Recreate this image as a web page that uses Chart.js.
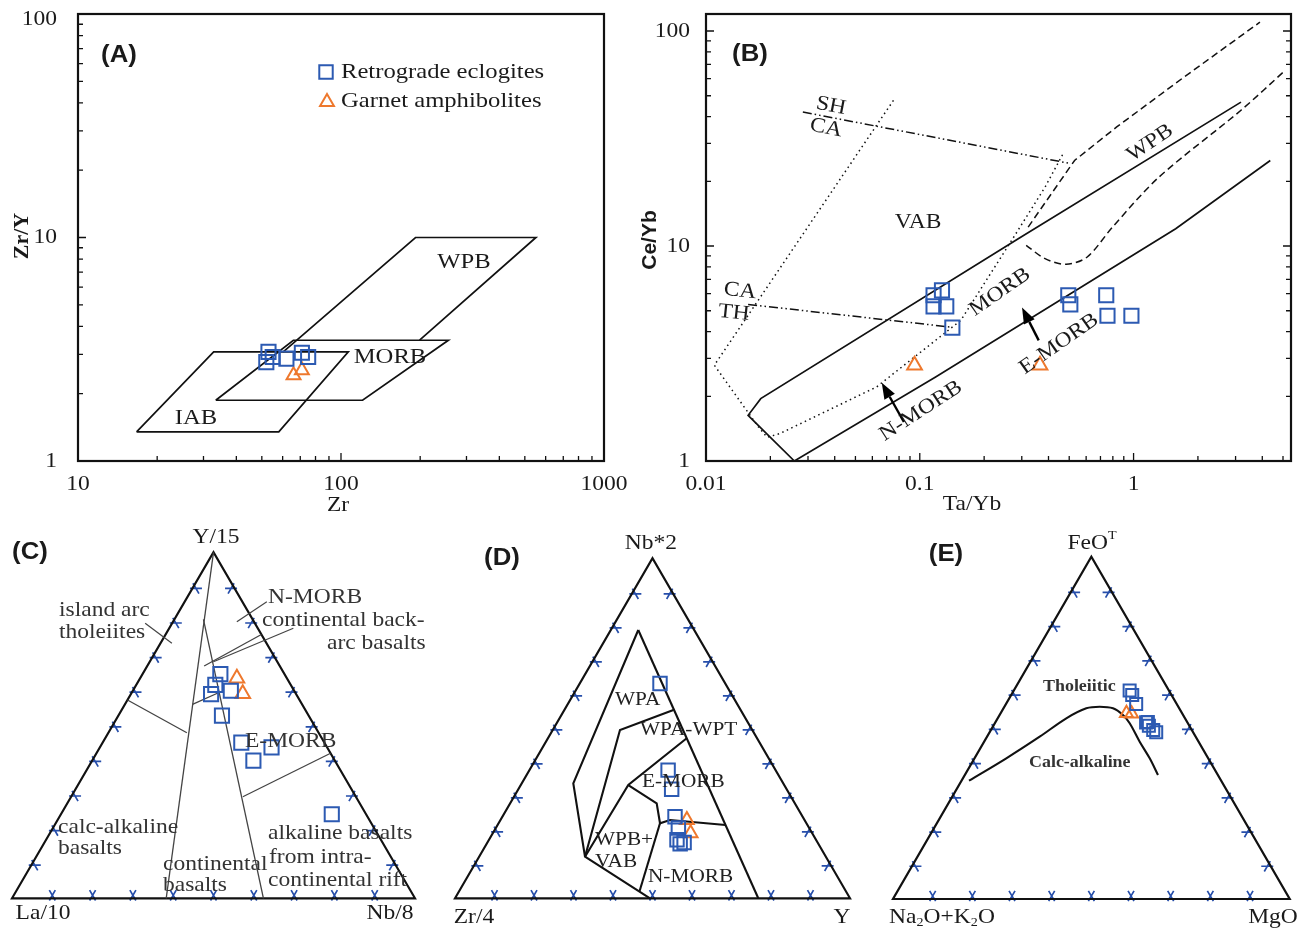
<!DOCTYPE html>
<html>
<head>
<meta charset="utf-8">
<title>Discrimination diagrams</title>
<script src="https://cdn.jsdelivr.net/npm/chart.js@4.4.1/dist/chart.umd.min.js"></script>
<style>
  html, body { margin: 0; padding: 0; background: #fff; }
  #wrap { position: relative; width: 1303px; height: 934px; overflow: hidden; background: #fff; }
  #wrap canvas { position: absolute; left: 0; top: 0; }
</style>
</head>
<body>
<div id="wrap">
  <canvas id="chartA" width="1303" height="934"></canvas>
  <canvas id="chartB" width="1303" height="934"></canvas>
  <canvas id="chartC" width="1303" height="934"></canvas>
  <canvas id="chartD" width="1303" height="934"></canvas>
  <canvas id="chartE" width="1303" height="934"></canvas>
</div>
<script>
// ---------- (A) Zr/Y vs Zr ----------
const aEclZr  = [52, 53, 55, 62, 71, 75];
const aEclZrY = [2.77, 3.08, 2.92, 2.87, 3.05, 2.92];
const aAmpZr  = [66, 71];
const aAmpZrY = [2.42, 2.55];
const aXTicks = [10, 100, 1000];
const aYTicks = [1, 10, 100];
// field outlines [Zr, Zr/Y]
const aFieldIAB  = [[16.7, 1.35], [32.8, 3.08], [106.6, 3.08], [58, 1.35], [16.7, 1.35]];
const aFieldMORB = [[33.4, 1.87], [65.9, 3.47], [256, 3.47], [120.8, 1.87], [33.4, 1.87]];
const aFieldWPB  = [[60.3, 3.08], [192, 10], [551, 10], [199, 3.47]];

// ---------- (B) Ce/Yb vs Ta/Yb ----------
const bEclTaYb = [0.116, 0.127, 0.116, 0.133, 0.142, 0.495, 0.506, 0.745, 0.755, 0.977];
const bEclCeYb = [5.90, 6.22, 5.24, 5.24, 4.17, 5.90, 5.35, 5.90, 4.74, 4.74];
const bAmpTaYb = [0.0945, 0.365];
const bAmpCeYb = [2.79, 2.79];
const bXTicks = [0.01, 0.1, 1];
const bYTicks = [1, 10, 100];
// boundaries [Ta/Yb, Ce/Yb]
const bSolidUpper = [[0.0259, 1], [0.01574, 1.631], [0.01803, 1.95], [0.2938, 10.93], [3.18, 46.7]];
const bSolidLower = [[0.0259, 1], [0.1186, 2.46], [1.574, 12.04], [4.36, 25.0]];
const bDotted = [[0.0753, 47.6], [0.01094, 2.79], [0.0175, 1.45], [0.0193, 1.29], [0.0221, 1.34],
                 [0.0628, 2.21], [0.1556, 4.51], [0.2687, 10.6], [0.3855, 18.8], [0.473, 27.4]];
const bShCa = [[0.02838, 42.0], [0.506, 24.2]];
const bCaTh = [[0.01574, 5.35], [0.139, 4.2]];
const bDashUpper = [[0.3213, 12.25], [0.5297, 25.0], [0.834, 35.8], [1.724, 61.1], [3.90, 110]];
const bDashLower = [[0.3145, 10.07], [0.3855, 8.73], [0.484, 8.22], [0.607, 8.89], [0.797, 12.25],
                    [1.313, 20.9], [3.18, 42.8], [5.12, 65.6]];
const bArrows = [[[0.0843, 1.518], [0.0664, 2.31]], [[0.360, 3.64], [0.3008, 5.17]]];

// ---------- (C) Y/15 - La/10 - Nb/8 (percent of apex Y/15 and Nb/8) ----------
const cEclY  = [64.8, 61.7, 59.0, 60.0, 52.8, 45.0, 43.6, 39.8, 24.3];
const cEclNb = [19.3, 19.6, 19.9, 24.3, 25.7, 34.4, 42.6, 40.0, 67.2];
const cAmpY  = [63.6, 59.1];
const cAmpNb = [24.0, 27.7];
// boundaries [Y/15, Nb/8] fractions
const cBounds = [
  [[1, 0], [0, 0.3826]],
  [[0.8064, 0.0719], [0, 0.6239]],
  [[0.5731, 0], [0.4786, 0.1946]],
  [[0.5607, 0.1675], [0.5962, 0.2184]],
  [[0.6714, 0.1411], [0.7624, 0.2376]],
  [[0.2936, 0.426], [0.4191, 0.5809]]
];
const cLeaders = [
  [[0.7948, -0.067], [0.737, 0.0282]],
  [[0.7994, 0.1582], [0.8572, 0.2037]],
  [[0.6838, 0.158], [0.7803, 0.308]]
];

// ---------- (D) Nb*2 - Zr/4 - Y ----------
const dEclNb = [63.2, 37.7, 32.1, 24.0, 20.7, 17.2, 16.0, 16.4];
const dEclY  = [20.3, 35.1, 38.8, 43.7, 46.2, 47.6, 49.0, 49.8];
const dAmpNb = [23.0, 19.1];
const dAmpY  = [47.2, 50.1];
const dBounds = [
  [[0.7891, 0.0694], [0.3382, 0.1304], [0.1224, 0.2679], [0, 0.4937]],
  [[0.7891, 0.0694], [0, 0.7678]],
  [[0.1224, 0.2679], [0.495, 0.1702], [0.5538, 0.276]],
  [[0.1224, 0.2679], [0.3332, 0.2721], [0.4706, 0.3513]],
  [[0.3332, 0.2721], [0.2794, 0.3709], [0.2206, 0.4087], [0.2303, 0.4292], [0.2156, 0.577]],
  [[0.2206, 0.4087], [0.02, 0.457]]
];

// ---------- (E) FeOT - (Na2O+K2O) - MgO ----------
const eEclFe = [60.9, 59.6, 57.0, 51.6, 50.6, 49.4, 48.7, 51.7];
const eEclMg = [29.2, 30.5, 32.8, 38.0, 39.2, 40.9, 42.0, 38.4];
const eAmpFe = [54.3, 54.1];
const eAmpMg = [31.7, 33.1];
const eCurve = [[0.3456, 0.0188], [0.411, 0.0801], [0.4741, 0.1327], [0.5279, 0.1729], [0.5571, 0.2087],
                [0.5618, 0.2401], [0.5571, 0.276], [0.5375, 0.311], [0.5133, 0.34], [0.4595, 0.3921],
                [0.411, 0.4416], [0.3623, 0.4868]];

// ---------- helpers ----------
const W = 1303, H = 934;
const BLUE = 'rgb(44,90,178)';
const ORANGE = 'rgb(238,120,45)';
const TICKBLUE = 'rgb(38,78,170)';
const SERIF = '"Liberation Serif", "Times New Roman", serif';
const SANS = '"Liberation Sans", Arial, sans-serif';
const SX = 1.12; // text in the figure is a little wide

const pairs = (xs, ys) => xs.map((x, i) => ({x, y: ys[i]}));
const xy = arr => arr.map(p => ({x: p[0], y: p[1]}));
const tern = (top, right) => ({x: right + top / 2, y: top});
const ternPts = (tops, rights) => tops.map((t, i) => tern(t / 100, rights[i] / 100));
const ternLine = arr => arr.map(p => tern(p[0], p[1]));

function markSet(data, style, color, r) {
  return {data, showLine: false, pointStyle: style, pointRadius: r, pointHoverRadius: r,
    pointBorderColor: color, pointBackgroundColor: 'rgba(255,255,255,0)', pointBorderWidth: 2, order: 0, clip: false};
}
function pathSet(data, opts) {
  return Object.assign({data, showLine: true, pointRadius: 0, pointHoverRadius: 0, borderColor: '#111',
    borderWidth: 1.7, backgroundColor: 'transparent', fill: false, tension: 0, order: 1}, opts || {});
}

function txt(ctx, s, x, y, font, o) {
  o = o || {};
  ctx.save();
  ctx.font = font;
  ctx.fillStyle = o.color || '#1a1a1a';
  ctx.textAlign = o.align || 'center';
  ctx.textBaseline = 'middle';
  ctx.translate(x, y);
  if (o.rot) ctx.rotate(o.rot * Math.PI / 180);
  ctx.scale(o.sx || SX, 1);
  ctx.fillText(s, 0, 0);
  ctx.restore();
}
function rich(ctx, parts, x, y, size, align) {
  ctx.save();
  ctx.fillStyle = '#1a1a1a';
  ctx.textBaseline = 'middle';
  ctx.textAlign = 'left';
  ctx.translate(x, y);
  ctx.scale(SX, 1);
  let w = 0;
  parts.forEach(p => { ctx.font = (p[1] ? size * 0.6 : size) + 'px ' + SERIF; w += ctx.measureText(p[0]).width; });
  let cx = align === 'left' ? 0 : -w / 2;
  parts.forEach(p => {
    const fs = p[1] ? size * 0.6 : size;
    ctx.font = fs + 'px ' + SERIF;
    const dy = p[1] === 'sub' ? size * 0.28 : p[1] === 'sup' ? -size * 0.35 : 0;
    ctx.fillText(p[0], cx, dy);
    cx += ctx.measureText(p[0]).width;
  });
  ctx.restore();
}

function logTicks(min, max) {
  const out = [];
  for (let e = Math.floor(Math.log10(min)) - 1; e <= Math.ceil(Math.log10(max)); e++) {
    for (let m = 1; m < 10; m++) {
      const v = m * Math.pow(10, e);
      if (v >= min * 0.999 && v <= max * 1.001) out.push({v, major: m === 1});
    }
  }
  return out;
}

function logFrame(ctx, chart, o) {
  const {left, top, right, bottom} = chart.chartArea;
  const xs = chart.scales.x, ys = chart.scales.y;
  ctx.save();
  ctx.strokeStyle = '#111';
  ctx.lineWidth = 1.3;
  ctx.beginPath();
  logTicks(xs.min, xs.max).forEach(t => {
    const px = xs.getPixelForValue(t.v), L = t.major ? 8 : 5;
    ctx.moveTo(px, bottom); ctx.lineTo(px, bottom - L);
  });
  logTicks(ys.min, ys.max).forEach(t => {
    const py = ys.getPixelForValue(t.v), L = t.major ? 8 : 5;
    ctx.moveTo(left, py); ctx.lineTo(left + L, py);
    if (o.right) { ctx.moveTo(right, py); ctx.lineTo(right - L, py); }
  });
  ctx.stroke();
  ctx.lineWidth = 2.2;
  ctx.strokeRect(left, top, right - left, bottom - top);
  ctx.restore();
  o.xTicks.forEach(v => txt(ctx, String(v), xs.getPixelForValue(v), bottom + 23, '21px ' + SERIF));
  o.yTicks.forEach(v => txt(ctx, String(v), o.yLabX, Math.max(ys.getPixelForValue(v), 19), '21px ' + SERIF, {align: 'right'}));
}

function ternFrame(ctx, chart) {
  const xs = chart.scales.x, ys = chart.scales.y;
  const P = (t, r) => { const c = tern(t, r); return [xs.getPixelForValue(c.x), ys.getPixelForValue(c.y)]; };
  const A = P(1, 0), L = P(0, 0), R = P(0, 1);
  const c60 = Math.cos(Math.PI / 3), s60 = Math.sin(Math.PI / 3);
  const arm = 6, off = 3;
  // small crosses just inside each edge, arms parallel to the two other edges
  const cross = (x, y, n, d1, d2) => {
    const cx = x + n[0] * off, cy = y + n[1] * off;
    ctx.moveTo(cx - d1[0] * arm, cy - d1[1] * arm); ctx.lineTo(cx + d1[0] * arm, cy + d1[1] * arm);
    ctx.moveTo(cx - d2[0] * arm, cy - d2[1] * arm); ctx.lineTo(cx + d2[0] * arm, cy + d2[1] * arm);
  };
  ctx.save();
  ctx.strokeStyle = TICKBLUE;
  ctx.lineWidth = 1.7;
  ctx.beginPath();
  for (let i = 1; i < 10; i++) {
    const f = i / 10;
    let [x, y] = P(0, f);
    cross(x, y, [0, -1], [c60, -s60], [-c60, -s60]);
    [x, y] = P(f, 0);
    cross(x, y, [s60, c60], [1, 0], [c60, s60]);
    [x, y] = P(f, 1 - f);
    cross(x, y, [-s60, c60], [1, 0], [c60, -s60]);
  }
  ctx.stroke();
  ctx.strokeStyle = '#111';
  ctx.lineWidth = 2.2;
  ctx.beginPath();
  ctx.moveTo(L[0], L[1]); ctx.lineTo(R[0], R[1]); ctx.lineTo(A[0], A[1]); ctx.closePath();
  ctx.stroke();
  ctx.restore();
}

function arrow(ctx, x0, y0, x1, y1) {
  const a = Math.atan2(y1 - y0, x1 - x0), hl = 16, hw = 6;
  const bx = x1 - hl * Math.cos(a), by = y1 - hl * Math.sin(a);
  ctx.save();
  ctx.strokeStyle = '#000'; ctx.fillStyle = '#000'; ctx.lineWidth = 2.4;
  ctx.beginPath(); ctx.moveTo(x0, y0); ctx.lineTo(bx, by); ctx.stroke();
  ctx.beginPath();
  ctx.moveTo(x1, y1);
  ctx.lineTo(bx + hw * Math.sin(a), by - hw * Math.cos(a));
  ctx.lineTo(bx - hw * Math.sin(a), by + hw * Math.cos(a));
  ctx.closePath(); ctx.fill();
  ctx.restore();
}

function makeChart(id, area, scales, datasets, before, after) {
  return new Chart(document.getElementById(id), {
    type: 'scatter',
    data: {datasets},
    options: {
      responsive: false, animation: false, events: [],
      layout: {padding: {left: area[0], top: area[1], right: W - area[2], bottom: H - area[3]}},
      plugins: {legend: {display: false}, tooltip: {enabled: false}},
      scales
    },
    plugins: [{
      id: 'deco',
      beforeDatasetsDraw(chart) { if (before) before(chart.ctx, chart); },
      afterDatasetsDraw(chart) { if (after) after(chart.ctx, chart); }
    }]
  });
}

const ternScales = {
  x: {type: 'linear', min: 0, max: 1, display: false},
  y: {type: 'linear', min: 0, max: 1, display: false}
};

// ---------- panel A ----------
makeChart('chartA', [78, 14, 604, 461], {
  x: {type: 'logarithmic', min: 10, max: 1000, display: false},
  y: {type: 'logarithmic', min: 1, max: 100, display: false}
}, [
  markSet(pairs(aEclZr, aEclZrY), 'rect', BLUE, 10),
  markSet(pairs(aAmpZr, aAmpZrY), 'triangle', ORANGE, 8),
  pathSet(xy(aFieldIAB)),
  pathSet(xy(aFieldMORB)),
  pathSet(xy(aFieldWPB))
], null, (ctx, chart) => {
  logFrame(ctx, chart, {right: false, xTicks: aXTicks, yTicks: aYTicks, yLabX: 57});
  txt(ctx, 'Zr/Y', 22, 236, 'bold 22px ' + SERIF, {rot: -90, sx: 1});
  txt(ctx, 'Zr', 338, 505, '21px ' + SERIF);
  txt(ctx, '(A)', 119, 56, 'bold 23px ' + SANS);
  txt(ctx, 'WPB', 464, 262, '22px ' + SERIF);
  txt(ctx, 'MORB', 390, 357, '22px ' + SERIF);
  txt(ctx, 'IAB', 196, 418, '22px ' + SERIF);
  ctx.save();
  ctx.fillStyle = 'rgba(255,255,255,0)';
  ctx.lineWidth = 2;
  ctx.strokeStyle = BLUE;
  Chart.helpers.drawPoint(ctx, {pointStyle: 'rect', radius: 9.5, borderWidth: 2}, 326, 72);
  ctx.strokeStyle = ORANGE;
  Chart.helpers.drawPoint(ctx, {pointStyle: 'triangle', radius: 8, borderWidth: 2}, 327, 102);
  ctx.restore();
  txt(ctx, 'Retrograde eclogites', 341, 72, '22px ' + SERIF, {align: 'left'});
  txt(ctx, 'Garnet amphibolites', 341, 101, '22px ' + SERIF, {align: 'left'});
});

// ---------- panel B ----------
makeChart('chartB', [706, 14, 1297, 461], {
  x: {type: 'logarithmic', min: 0.01, max: 5.45, display: false},
  y: {type: 'logarithmic', min: 1, max: 120, display: false}
}, [
  markSet(pairs(bEclTaYb, bEclCeYb), 'rect', BLUE, 10),
  markSet(pairs(bAmpTaYb, bAmpCeYb), 'triangle', ORANGE, 8.5),
  pathSet(xy(bSolidUpper)),
  pathSet(xy(bSolidLower)),
  pathSet(xy(bDotted), {borderWidth: 1.5, borderDash: [1.5, 3.5]}),
  pathSet(xy(bShCa), {borderWidth: 1.5, borderDash: [9, 3, 1.5, 3, 1.5, 3]}),
  pathSet(xy(bCaTh), {borderWidth: 1.5, borderDash: [9, 3, 1.5, 3, 1.5, 3]}),
  pathSet(xy(bDashUpper), {borderWidth: 1.5, borderDash: [7, 4]}),
  pathSet(xy(bDashLower), {borderWidth: 1.5, borderDash: [7, 4], tension: 0.3})
], null, (ctx, chart) => {
  logFrame(ctx, chart, {right: true, xTicks: bXTicks, yTicks: bYTicks, yLabX: 690});
  const xs = chart.scales.x, ys = chart.scales.y;
  bArrows.forEach(a => arrow(ctx, xs.getPixelForValue(a[0][0]), ys.getPixelForValue(a[0][1]),
                                  xs.getPixelForValue(a[1][0]), ys.getPixelForValue(a[1][1])));
  txt(ctx, 'Ce/Yb', 650, 240, 'bold 21px ' + SANS, {rot: -90, sx: 1});
  txt(ctx, 'Ta/Yb', 972, 504, '21px ' + SERIF);
  txt(ctx, '(B)', 750, 55, 'bold 23px ' + SANS);
  txt(ctx, 'SH', 831, 106, '21px ' + SERIF, {rot: 11});
  txt(ctx, 'CA', 826, 128, '21px ' + SERIF, {rot: 11});
  txt(ctx, 'VAB', 918, 222, '21px ' + SERIF);
  txt(ctx, 'WPB', 1150, 143, '21px ' + SERIF, {rot: -34});
  txt(ctx, 'MORB', 1000, 292, '21px ' + SERIF, {rot: -35});
  txt(ctx, 'E-MORB', 1059, 344, '21px ' + SERIF, {rot: -35});
  txt(ctx, 'N-MORB', 921, 411, '21px ' + SERIF, {rot: -33});
  txt(ctx, 'CA', 740, 291, '21px ' + SERIF, {rot: 6});
  txt(ctx, 'TH', 734, 313, '21px ' + SERIF, {rot: 6});
});

// ---------- panel C ----------
makeChart('chartC', [11.7, 552.3, 415, 898.3], ternScales, [
  markSet(ternPts(cEclY, cEclNb), 'rect', BLUE, 10),
  markSet(ternPts(cAmpY, cAmpNb), 'triangle', ORANGE, 8.5),
  ...cBounds.map(b => pathSet(ternLine(b), {borderColor: '#444', borderWidth: 1.3, clip: false})),
  ...cLeaders.map(b => pathSet(ternLine(b), {borderColor: '#444', borderWidth: 1.2, clip: false}))
], ternFrame, (ctx) => {
  txt(ctx, '(C)', 30, 553, 'bold 23px ' + SANS);
  txt(ctx, 'Y/15', 216, 537, '21px ' + SERIF);
  txt(ctx, 'La/10', 43, 913, '21px ' + SERIF);
  txt(ctx, 'Nb/8', 390, 913, '21px ' + SERIF);
  const f = '21px ' + SERIF, o = {align: 'left', color: '#333'};
  [['island arc', 59, 610], ['tholeiites', 59, 632], ['N-MORB', 268, 597],
   ['continental back-', 262, 620], ['arc basalts', 327, 643], ['E-MORB', 245, 741],
   ['calc-alkaline', 58, 827], ['basalts', 58, 848], ['continental', 163, 864], ['basalts', 163, 885],
   ['alkaline basalts', 268, 833], ['from intra-', 269, 857], ['continental rift', 268, 880]]
    .forEach(t => txt(ctx, t[0], t[1], t[2], f, o));
});

// ---------- panel D ----------
makeChart('chartD', [455, 558.3, 850, 898.3], ternScales, [
  markSet(ternPts(dEclNb, dEclY), 'rect', BLUE, 9.5),
  markSet(ternPts(dAmpNb, dAmpY), 'triangle', ORANGE, 8),
  ...dBounds.map(b => pathSet(ternLine(b), {borderWidth: 2.1, clip: false}))
], ternFrame, (ctx) => {
  txt(ctx, '(D)', 502, 559, 'bold 23px ' + SANS);
  txt(ctx, 'Nb*2', 651, 543, '21px ' + SERIF);
  txt(ctx, 'Zr/4', 474, 917, '21px ' + SERIF);
  txt(ctx, 'Y', 842, 917, '21px ' + SERIF);
  const f = '19px ' + SERIF, o = {align: 'left', color: '#222'};
  [['WPA', 615, 700], ['WPA-WPT', 640, 730], ['E-MORB', 642, 782], ['WPB+', 595, 840],
   ['VAB', 595, 862], ['N-MORB', 648, 877]].forEach(t => txt(ctx, t[0], t[1], t[2], f, o));
});

// ---------- panel E ----------
makeChart('chartE', [893, 556.7, 1289.7, 899], ternScales, [
  markSet(ternPts(eEclFe, eEclMg), 'rect', BLUE, 8.5),
  markSet(ternPts(eAmpFe, eAmpMg), 'triangle', ORANGE, 7.5),
  pathSet(ternLine(eCurve), {borderWidth: 2.1, tension: 0.35, clip: false})
], ternFrame, (ctx) => {
  txt(ctx, '(E)', 946, 555, 'bold 23px ' + SANS);
  rich(ctx, [['FeO', null], ['T', 'sup']], 1092, 543, 21);
  rich(ctx, [['Na', null], ['2', 'sub'], ['O+K', null], ['2', 'sub'], ['O', null]], 942, 917, 21);
  txt(ctx, 'MgO', 1273, 917, '21px ' + SERIF);
  txt(ctx, 'Tholeiitic', 1043, 687, 'bold 16px ' + SERIF, {align: 'left', color: '#333'});
  txt(ctx, 'Calc-alkaline', 1029, 763, 'bold 16px ' + SERIF, {align: 'left', color: '#333'});
});
</script>
</body>
</html>
